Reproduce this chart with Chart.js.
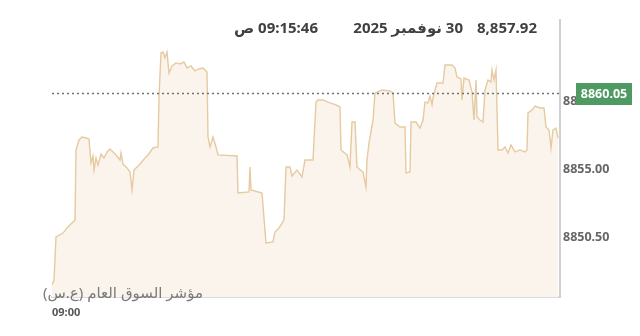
<!DOCTYPE html>
<html>
<head>
<meta charset="utf-8">
<script src="https://cdn.jsdelivr.net/npm/chart.js@4/dist/chart.umd.min.js"></script>
<style>
  html,body{margin:0;padding:0;background:#fff;}
  #wrap{position:relative;width:640px;height:336px;overflow:hidden;}
  canvas{position:absolute;left:0;top:0;}
  .hdr{position:absolute;top:16px;font-family:"Noto Sans","DejaVu Sans",sans-serif;font-weight:bold;font-size:15px;color:#404040;direction:rtl;white-space:nowrap;line-height:22px;}
  #idx{position:absolute;left:43px;top:282px;font-family:"Noto Sans","DejaVu Sans",sans-serif;font-size:15px;color:#7a7a7a;direction:rtl;white-space:nowrap;line-height:20px;}
</style>
</head>
<body>
<div id="wrap">
  <canvas id="c" width="640" height="336"></canvas>
  <div class="hdr" id="h1" style="right:103px">8,857.92</div>
  <div class="hdr" id="h2" style="right:177px">30 نوفمبر 2025</div>
  <div class="hdr" id="h3" style="right:322px">09:15:46 ص</div>
  <div id="idx">مؤشر السوق العام (ع.س)</div>
</div>
<script>
// minutes after 09:00
const minutes = [0,1,2,5.5,7.5,10,11.5,12,13.5,15,17,18.5,19.5,20.5,21,22,23,24.5,26,27.5,29,30.5,32,34,34.5,35.5,37.5,39,40,41,42.5,44,46.5,48,50.5,53,53.5,54.5,55.5,56.5,57.5,58.5,60,62,64,66,67.5,69.5,71.5,73.5,75.5,77.5,78,79,80.5,82,83,92.5,93,98.5,99,99.5,105,106,107,110.5,111.5,113.5,116,117,119,120,122.5,125,126.5,130.5,132,133,135.5,139,142,144,144.5,147.5,149,150,151.5,152.5,155.5,157,157.5,158.5,160.5,161.5,165,169,170.5,171.5,174,176.5,177,179,179.5,182,184,185.5,186.5,188,189,190,190.5,192.5,195.5,196.5,200,201.5,202.5,204.5,205,206,208.5,210,211,212,212.5,214,215.5,216.5,218,219.5,220,221,222,223,225,226.5,228,229.5,231.5,234,236.5,237.5,238,240,241.5,244,246,247,248.5,249.5,250.5,252,253];
const values = [8847.32,8847.65,8850.50,8850.76,8851.10,8851.43,8851.62,8856.26,8856.92,8857.12,8857.05,8856.99,8855.40,8855.86,8854.93,8855.73,8855.26,8855.99,8855.73,8856.13,8856.32,8856.13,8855.93,8855.60,8856.06,8855.33,8855.07,8854.80,8853.61,8854.93,8855.13,8855.33,8855.73,8855.93,8856.39,8856.46,8859.76,8862.68,8862.74,8862.35,8862.74,8861.35,8861.82,8862.02,8861.95,8862.08,8861.68,8861.82,8861.49,8861.62,8861.68,8861.42,8857.12,8856.46,8857.12,8856.46,8855.93,8855.86,8853.41,8853.48,8855.13,8853.61,8853.41,8851.76,8850.10,8850.17,8850.83,8851.10,8851.62,8855.13,8855.13,8854.54,8854.93,8854.47,8855.60,8855.60,8859.43,8859.57,8859.57,8859.37,8859.24,8859.10,8856.26,8855.93,8855.13,8858.11,8858.11,8855.13,8854.80,8853.81,8855.60,8856.72,8858.24,8860.03,8860.23,8860.16,8860.03,8858.04,8857.78,8857.78,8854.74,8854.80,8858.11,8858.11,8857.71,8858.24,8859.43,8859.37,8859.83,8859.24,8859.70,8860.69,8860.69,8861.88,8861.88,8861.68,8861.09,8860.96,8859.57,8861.02,8860.89,8860.10,8858.24,8860.89,8858.44,8858.24,8858.11,8860.23,8860.89,8860.76,8861.55,8860.89,8861.55,8856.26,8856.26,8856.46,8856.06,8856.59,8856.13,8856.26,8856.13,8856.26,8858.71,8858.90,8859.17,8859.04,8859.04,8857.78,8857.58,8856.39,8857.58,8857.71,8857.05];
const yTicks = [8850.50, 8855.00, 8859.50];
const xTicks = [0];
const xTickLabels = ['09:00'];
const refValue = 8860.05;
const yMin = 8846.53, yMax = 8864.86;
const xMin = 0, xMax = 254;

const points = minutes.map((m, i) => ({x: m, y: values[i]}));

const refPlugin = {
  id: 'refLine',
  afterDatasetsDraw(chart) {
    const {ctx, chartArea} = chart;
    const y = chart.scales.y.getPixelForValue(refValue);
    ctx.save();
    ctx.strokeStyle = '#707070';
    ctx.lineWidth = 1.6;
    ctx.setLineDash([2, 3]);
    ctx.beginPath();
    ctx.moveTo(chartArea.left, Math.round(y) + 0.5);
    ctx.lineTo(chartArea.right, Math.round(y) + 0.5);
    ctx.stroke();
    ctx.restore();
  },
  afterDraw(chart) {
    const {ctx} = chart;
    const y = chart.scales.y.getPixelForValue(refValue);
    ctx.save();
    ctx.fillStyle = '#4e9a62';
    ctx.fillRect(576, Math.round(y) - 10, 56, 22);
    ctx.fillStyle = '#ffffff';
    ctx.font = 'bold 12.5px "Noto Sans", sans-serif';
    ctx.textAlign = 'center';
    ctx.textBaseline = 'middle';
    ctx.fillText(refValue.toFixed(2), 604, Math.round(y) + 1);
    ctx.restore();
  }
};

new Chart(document.getElementById('c'), {
  type: 'line',
  data: {
    datasets: [{
      data: points,
      borderColor: 'rgb(230,202,160)',
      borderWidth: 1.4,
      backgroundColor: 'rgb(250,244,237)',
      fill: 'start',
      pointRadius: 0,
      tension: 0
    }]
  },
  options: {
    responsive: false,
    animation: false,
    devicePixelRatio: 1,
    layout: {padding: {left: 52, top: 20, right: 0, bottom: 0}},
    plugins: {legend: {display: false}, tooltip: {enabled: false}},
    scales: {
      x: {
        type: 'linear',
        min: xMin, max: xMax,
        grid: {display: false, drawTicks: false},
        border: {display: true, color: '#dcdcdc', width: 2},
        afterBuildTicks: s => { s.ticks = xTicks.map(v => ({value: v})); },
        afterFit: s => { s.height = 39; },
        ticks: {
          align: 'start',
          padding: 9,
          maxRotation: 0,
          color: '#555',
          font: {family: '"Noto Sans", sans-serif', size: 11, weight: 'bold'},
          callback: (v) => { const i = xTicks.indexOf(v); return i >= 0 ? xTickLabels[i] : ''; }
        }
      },
      y: {
        position: 'right',
        min: yMin, max: yMax,
        grid: {display: false, drawTicks: false},
        border: {display: true, color: '#d0d0d0', width: 2},
        afterBuildTicks: s => { s.ticks = yTicks.map(v => ({value: v})); },
        afterFit: s => { s.width = 80; },
        ticks: {
          padding: 3,
          color: '#666',
          font: {family: '"Noto Sans", sans-serif', size: 12.5, weight: 'bold'},
          callback: v => Number(v).toFixed(2)
        }
      }
    }
  },
  plugins: [refPlugin]
});
</script>
</body>
</html>
